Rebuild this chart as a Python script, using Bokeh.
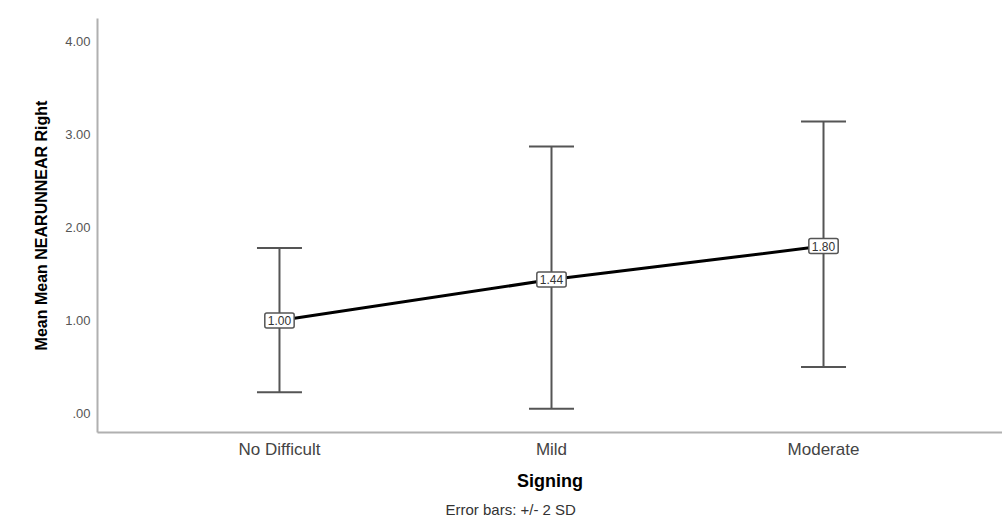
from bokeh.plotting import figure
from bokeh.models import (ColumnDataSource, Whisker, TeeHead, Label, Title,
                          FixedTicker, Range1d)
from bokeh.embed import file_html
from bokeh.resources import INLINE

# ---- data ----
categories = ["No Difficult", "Mild", "Moderate"]
means = [1.00, 1.44, 1.80]
lower = [0.23, 0.05, 0.50]   # mean - 2 SD
upper = [1.78, 2.87, 3.14]   # mean + 2 SD
mean_labels = ["1.00", "1.44", "1.80"]
y_ticks = [0, 1, 2, 3, 4]
y_tick_labels = [".00", "1.00", "2.00", "3.00", "4.00"]
x_title = "Signing"
y_title = "Mean Mean NEARUNNEAR Right"
footnote = "Error bars: +/- 2 SD"

FONT = "Liberation Sans"
xpos = list(range(len(categories)))

p = figure(width=1002, height=525, output_backend="svg", toolbar_location=None,
           x_range=Range1d(-0.669, 2.658), y_range=Range1d(-0.204, 4.247),
           min_border_left=97, min_border_top=18, min_border_right=0,
           min_border_bottom=93)
p.outline_line_color = None
p.grid.visible = False
p.background_fill_color = "white"
p.border_fill_color = "white"

src = ColumnDataSource(dict(x=xpos, mean=means, lower=lower, upper=upper))

# error bars
w = Whisker(base="x", upper="upper", lower="lower", source=src,
            line_color="#555555", line_width=2,
            upper_head=TeeHead(size=45, line_color="#555555", line_width=2),
            lower_head=TeeHead(size=45, line_color="#555555", line_width=2))
p.add_layout(w)

# mean line
p.line("x", "mean", source=src, line_color="black", line_width=3)

# value labels
for xv, yv, t in zip(xpos, means, mean_labels):
    p.add_layout(Label(x=xv, y=yv, text=t, text_align="center",
                       text_baseline="middle", text_font=FONT,
                       text_font_size="12px", text_color="#333333",
                       background_fill_color="white",
                       border_line_color="#555555", border_line_width=1.5,
                       padding=3, border_radius=2))

# axes
for ax in (p.xaxis[0], p.yaxis[0]):
    ax.axis_line_color = "#b0b0b0"
    ax.axis_line_width = 2
    ax.major_tick_line_color = None
    ax.minor_tick_line_color = None
    ax.major_tick_out = 0
    ax.major_tick_in = 0
    ax.minor_tick_out = 0
    ax.major_label_text_font = FONT
    ax.axis_label_text_font = FONT
    ax.axis_label_text_font_style = "bold"
    ax.axis_label_text_color = "black"

p.xaxis.ticker = FixedTicker(ticks=xpos)
p.xaxis.major_label_overrides = {i: c for i, c in zip(xpos, categories)}
p.xaxis.major_label_text_font_size = "17px"
p.xaxis.major_label_text_color = "#444444"
p.xaxis.major_label_standoff = 7
p.xaxis.axis_label = x_title
p.xaxis.axis_label_text_font_size = "18px"
p.xaxis.axis_label_standoff = 9

p.yaxis.ticker = FixedTicker(ticks=y_ticks)
p.yaxis.major_label_overrides = {v: s for v, s in zip(y_ticks, y_tick_labels)}
p.yaxis.major_label_text_font_size = "13px"
p.yaxis.major_label_text_color = "#555555"
p.yaxis.major_label_standoff = 7
p.yaxis.axis_label = y_title
p.yaxis.axis_label_text_font_size = "16px"
p.yaxis.axis_label_standoff = 12

p.add_layout(Title(text=footnote, align="left", offset=348,
                   text_font=FONT, text_font_size="15px",
                   text_font_style="normal", text_color="#333333"), "below")

open("out.html", "w").write(file_html(p, INLINE))
